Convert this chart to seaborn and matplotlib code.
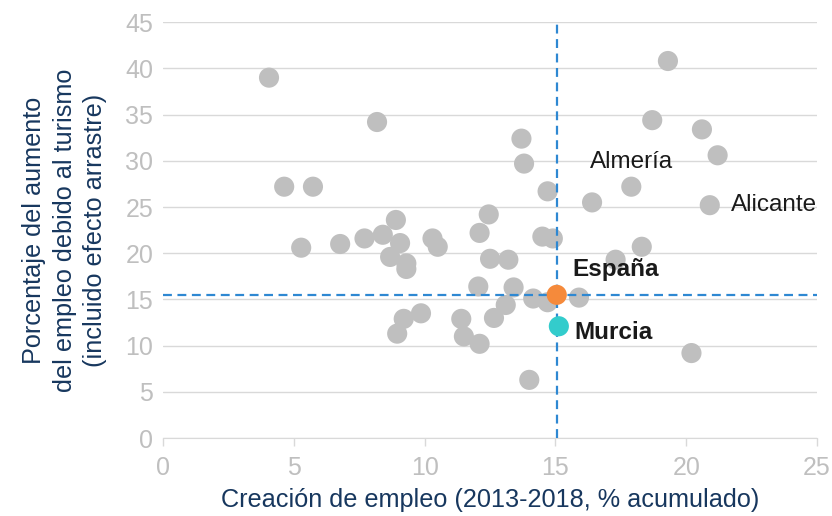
import pandas as pd
import seaborn as sns
import matplotlib.pyplot as plt

# Provincias: creación de empleo (x) vs % del aumento debido al turismo (y)
empleo = [4.05, 4.63, 5.73, 5.28, 6.77, 7.7, 8.18, 8.4, 8.9, 9.06,
          8.68, 9.3, 9.3, 8.95, 9.2, 9.86, 10.3, 10.5, 11.4, 11.5,
          12.1, 12.05, 12.1, 12.45, 12.5, 12.65, 13.1, 13.2, 13.4, 13.7,
          13.8, 14.0, 14.15, 14.5, 14.9, 14.7, 14.7, 15.9, 16.4, 17.3,
          17.9, 18.3, 18.7, 19.3, 20.2, 20.6, 20.9, 21.2]
turismo = [39.0, 27.2, 27.2, 20.6, 21.0, 21.6, 34.2, 22.0, 23.6, 21.1,
           19.6, 18.9, 18.3, 11.3, 12.9, 13.5, 21.6, 20.7, 12.9, 11.0,
           10.2, 16.4, 22.2, 24.2, 19.4, 13.0, 14.4, 19.3, 16.3, 32.4,
           29.7, 6.3, 15.1, 21.8, 21.6, 26.7, 14.7, 15.2, 25.5, 19.3,
           27.2, 20.7, 34.4, 40.8, 9.2, 33.4, 25.2, 30.6]
nombres = [""] * len(empleo)
nombres[40] = "Almería"
nombres[46] = "Alicante"

espana = (15.05, 15.5)
murcia = (15.13, 12.1)

df = pd.DataFrame({"empleo": empleo, "turismo": turismo, "nombre": nombres})

sns.set_style("white")
plt.rcParams["font.family"] = ["Liberation Sans", "DejaVu Sans"]

fig = plt.figure(figsize=(8.32, 5.16), dpi=100)
ax = fig.add_axes([0.196, 0.151, 0.786, 0.806])

grey = "#BFBFBF"
navy = "#17375E"
blue = "#2E88D2"

ax.set_axisbelow(True)
ax.yaxis.grid(True, color="#D9D9D9", linewidth=1)

sns.scatterplot(data=df, x="empleo", y="turismo", color=grey, s=210,
                edgecolor="none", ax=ax, zorder=2)

# lineas de referencia (España)
ax.axhline(espana[1], color=blue, linewidth=1.6, dashes=(4, 2.5), zorder=3)
ax.axvline(espana[0], color=blue, linewidth=1.6, dashes=(4, 2.5), zorder=3)

ax.scatter([espana[0]], [espana[1]], color="#F58A3B", s=210, edgecolor="none", zorder=4)
ax.scatter([murcia[0]], [murcia[1]], color="#33CCCC", s=210, edgecolor="none", zorder=4)

# etiquetas
for _, row in df[df["nombre"] != ""].iterrows():
    off = (-29.5, 18) if row["nombre"] == "Almería" else (15, 0)
    ax.annotate(row["nombre"], (row["empleo"], row["turismo"]), xytext=off,
                textcoords="offset points", ha="left", va="center",
                fontsize=17.5, color="#1A1A1A")
ax.annotate("España", espana, xytext=(11, 18), textcoords="offset points",
            ha="left", va="center", fontsize=17.5, fontweight="bold", color="#1A1A1A")
ax.annotate("Murcia", murcia, xytext=(11, -4.5), textcoords="offset points",
            ha="left", va="center", fontsize=17.5, fontweight="bold", color="#1A1A1A")

ax.set_xlim(0, 25)
ax.set_ylim(0, 45)
ax.set_xticks(range(0, 26, 5))
ax.set_yticks(range(0, 46, 5))
ax.tick_params(axis="x", colors="#D9D9D9", labelcolor=grey, labelsize=18,
               direction="out", length=6, width=1, pad=7, bottom=True)
ax.tick_params(axis="y", labelcolor=grey, labelsize=18, length=0, pad=7)

for side in ["top", "right", "left"]:
    ax.spines[side].set_visible(False)
ax.spines["bottom"].set_color("#D9D9D9")

ax.set_xlabel("Creación de empleo (2013-2018, % acumulado)", fontsize=18.2,
              color=navy, labelpad=6)
ax.set_ylabel("Porcentaje del aumento\ndel empleo debido al turismo\n(incluido efecto arrastre)",
              fontsize=18.2, color=navy, labelpad=13, linespacing=1.35)

fig.savefig("out.png", dpi=100)
